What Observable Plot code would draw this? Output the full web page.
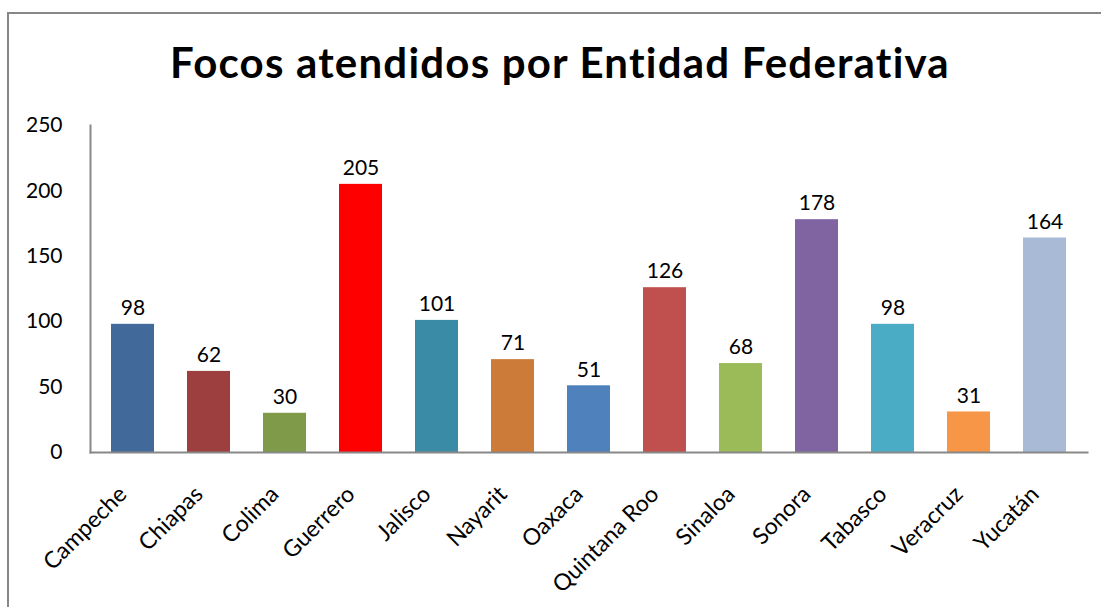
<!DOCTYPE html>
<html>
<head>
<meta charset="utf-8">
<script src="https://cdn.jsdelivr.net/npm/d3@7"></script>
<script src="https://cdn.jsdelivr.net/npm/@observablehq/plot@0.6"></script>
<style>
  html, body { margin: 0; padding: 0; background: #fff; }
  #wrap { position: relative; width: 1101px; height: 607px; overflow: hidden; font-family: Lato, "Noto Sans", sans-serif; }
  #border { position: absolute; left: 7px; top: 12px; right: -4px; bottom: -4px; border-left: 2px solid #878787; border-top: 2px solid #878787; }
  #title { position: absolute; left: 0; width: 1120px; top: 37px; text-align: center; font-weight: 700; font-size: 42px; letter-spacing: 1.2px; color: #000; }
  #chart { position: absolute; left: 0; top: 0; }
</style>
</head>
<body>
<div id="wrap">
  <div id="border"></div>
  <div id="title">Focos atendidos por Entidad Federativa</div>
  <div id="chart"></div>
</div>
<script>
const states = ["Campeche","Chiapas","Colima","Guerrero","Jalisco","Nayarit","Oaxaca","Quintana Roo","Sinaloa","Sonora","Tabasco","Veracruz","Yucatán"];
const values = [98, 62, 30, 205, 101, 71, 51, 126, 68, 178, 98, 31, 164];
const colors = ["#41699A","#9C3F3E","#7F9B49","#FF0000","#3A8BA5","#CC7B38","#4F81BD","#C0504D","#9BBB59","#8064A2","#4BACC6","#F79646","#A9BAD6"];
const yTicks = [0, 50, 100, 150, 200, 250];

const data = states.map((s, i) => ({state: s, value: values[i], color: colors[i]}));

const chart = Plot.plot({
  width: 1101,
  height: 607,
  marginLeft: 90,
  marginRight: 14,
  marginTop: 125,
  marginBottom: 155,
  style: {fontFamily: "Lato, 'Noto Sans', sans-serif", fontSize: "21px", color: "#000", background: "transparent"},
  x: {domain: states, paddingInner: 0.43, paddingOuter: 0.215, label: null},
  y: {domain: [0, 250], label: null},
  marks: [
    Plot.barY(data, {x: "state", y: "value", fill: "color"}),
    Plot.text(data, {x: "state", y: "value", text: d => String(d.value), dy: -16, fontSize: 21, fill: "#000"}),
    Plot.frame({anchor: "left", stroke: "#888", strokeWidth: 2}),
    Plot.frame({anchor: "bottom", stroke: "#888", strokeWidth: 2}),
    Plot.axisY({ticks: yTicks, tickSize: 0, tickPadding: 28, fontSize: 21, label: null}),
    Plot.axisX({tickSize: 0, tickPadding: 30, tickRotate: -45, fontSize: 23, dx: -10, dy: 8, label: null})
  ]
});
document.getElementById("chart").appendChild(chart);
</script>
</body>
</html>
